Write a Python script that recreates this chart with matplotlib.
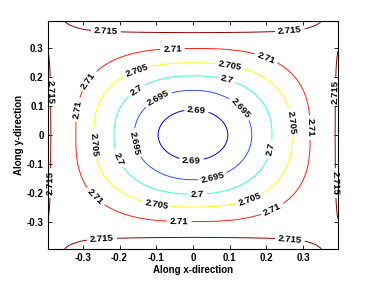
import numpy as np
import matplotlib
matplotlib.use("Agg")
import matplotlib.pyplot as plt

plt.rcParams["font.family"] = ["Liberation Sans", "DejaVu Sans"]

# contour levels and where each one crosses the axes
LEVELS = [2.69, 2.695, 2.70, 2.705, 2.71, 2.715]
X_CROSS = [0.095, 0.16, 0.215, 0.27, 0.319, 0.387]   # along y = 0
Y_CROSS = [0.088, 0.155, 0.205, 0.25, 0.30, 0.355]   # along x = 0
SQUARENESS = [2.0, 2.1, 2.3, 2.5, 2.8, 3.0]          # shape of the inner loops
Z_MIN = 2.686          # centre value
Z_ZERO = 2.7145        # value on the square where the wall profile changes sign
X_EDGE_Z = 2.7172      # value at the left / right wall (y = 0)
Y_EDGE_Z = 2.7208      # value at the top / bottom wall (x = 0)
HALF = 0.395

LINE_COLORS = ["#0000d0", "#3050ff", "#40ffc8", "#ffff10", "#ff2010", "#8c0000"]
TICKS = [-0.3, -0.2, -0.1, 0, 0.1, 0.2, 0.3]

# label anchor points, one list per level
LABEL_AT = {
    2.69: [(0.01, 0.09), (-0.004, -0.088)],
    2.695: [(-0.097, 0.13), (0.136, 0.10), (-0.165, -0.03), (0.053, -0.146)],
    2.70: [(-0.155, 0.157), (0.092, 0.192), (0.215, -0.05), (-0.207, -0.084), (0.012, -0.205)],
    2.705: [(-0.152, 0.226), (0.10, 0.244), (0.27, 0.044), (-0.27, -0.032),
            (-0.10, -0.243), (0.155, -0.222)],
    2.71: [(-0.289, 0.192), (-0.316, 0.088), (-0.056, 0.30), (0.20, 0.27),
           (0.319, 0.026), (-0.27, -0.22), (-0.037, -0.298), (0.218, -0.264)],
    2.715: [(-0.237, 0.356), (0.264, 0.356), (-0.248, -0.356), (0.264, -0.355),
            (-0.387, 0.15), (0.386, 0.15), (-0.387, -0.167), (0.386, -0.167)],
}


def wall_profile(s, cross, edge_z):
    """1 at the centre, 0 on the square, negative at the wall."""
    nodes = [0.0] + list(cross) + [HALF]
    vals = [Z_MIN] + LEVELS + [edge_z]
    z = np.interp(np.abs(s), nodes, vals)
    return (Z_ZERO - z) / (Z_ZERO - Z_MIN)


def loop_field(X, Y):
    """Level whose super-ellipse (read semi-axes) passes through each point."""
    zn = [Z_MIN] + LEVELS[:5] + [Z_ZERO, 2.73]
    rx = [1e-4] + X_CROSS[:5] + [0.36, 0.50]
    ry = [1e-4] + Y_CROSS[:5] + [0.345, 0.48]
    pn = [2.0] + SQUARENESS[:5] + [3.0, 3.0]
    lo = np.full(X.shape, Z_MIN)
    hi = np.full(X.shape, zn[-1])
    ax_, ay_ = np.abs(X), np.abs(Y)
    for _ in range(40):
        mid = 0.5 * (lo + hi)
        p = np.interp(mid, zn, pn)
        g = (ax_ / np.interp(mid, zn, rx)) ** p + (ay_ / np.interp(mid, zn, ry)) ** p
        inside = g > 1.0
        lo = np.where(inside, mid, lo)
        hi = np.where(inside, hi, mid)
    return 0.5 * (lo + hi)


x = np.linspace(-HALF, HALF, 401)
y = np.linspace(-HALF, HALF, 401)
X, Y = np.meshgrid(x, y)
Zp = Z_ZERO - (Z_ZERO - Z_MIN) * wall_profile(X, X_CROSS, X_EDGE_Z) * wall_profile(Y, Y_CROSS, Y_EDGE_Z)
Zs = loop_field(X, Y)
w = np.clip((Zp - 2.7105) / 0.003, 0, 1)
Z = (1 - w) * Zs + w * Zp

fig = plt.figure(figsize=(3.74, 2.81), dpi=100)
ax = fig.add_axes([0.128, 0.114, 0.776, 0.811])

cs = ax.contour(X, Y, Z, levels=LEVELS, colors=LINE_COLORS, linewidths=0.7)
pos = [p for lev in LEVELS for p in LABEL_AT[lev]]
labels = ax.clabel(cs, manual=pos, inline=True, inline_spacing=3, fontsize=6.8,
                   fmt="%g", colors="k")
for t in labels:
    t.set_fontweight("bold")
    t.set_clip_on(False)

ax.set_xlim(-HALF, HALF)
ax.set_ylim(-HALF, HALF)
ax.set_xticks(TICKS)
ax.set_yticks(TICKS)
ax.set_xticklabels([f"{t:g}" for t in TICKS])
ax.set_yticklabels([f"{t:g}" for t in TICKS])
ax.tick_params(direction="in", length=3, width=0.6, top=True, right=True,
               labelsize=7, pad=3)
for lab in ax.get_xticklabels() + ax.get_yticklabels():
    lab.set_fontweight("bold")
for sp in ax.spines.values():
    sp.set_linewidth(0.8)

ax.set_xlabel("Along x-direction", fontsize=7, fontweight="bold", labelpad=1)
ax.set_ylabel("Along y-direction", fontsize=7, fontweight="bold", labelpad=2)

fig.savefig("out.png", dpi=100)
